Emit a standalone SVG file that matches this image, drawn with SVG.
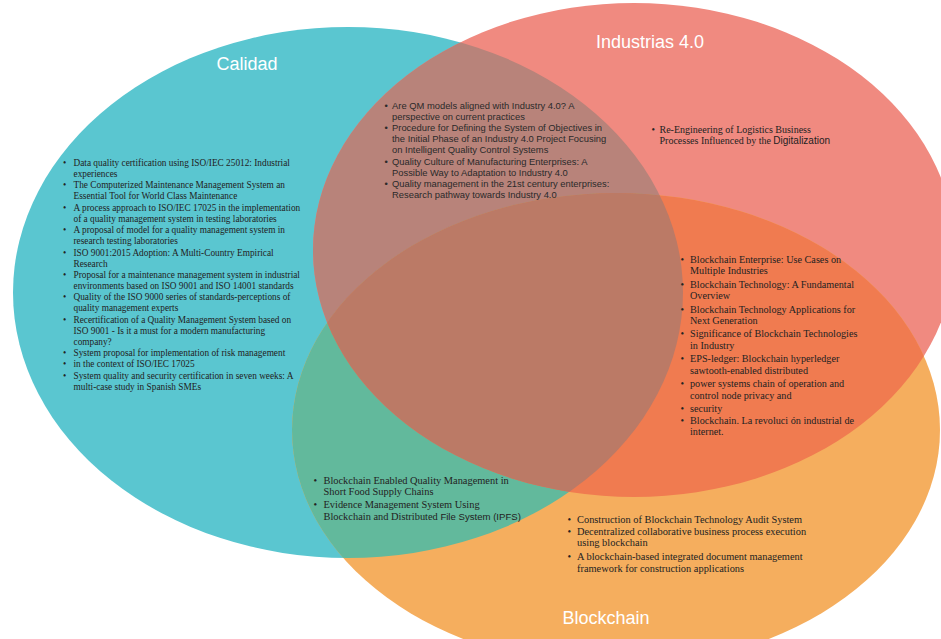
<svg xmlns="http://www.w3.org/2000/svg" xmlns:xlink="http://www.w3.org/1999/xlink" width="941" height="639" viewBox="0 0 941 639">
<style>
.t{fill:#fff;font-family:"Liberation Sans",Arial,sans-serif;font-size:18px}
.s{fill:#222;font-family:"Liberation Serif","Times New Roman",serif}
.a{fill:#2a2a2a;font-family:"Liberation Sans",Arial,sans-serif}
.sf{font-family:"Liberation Sans",Arial,sans-serif}
</style>
<defs>
<ellipse id="eB" cx="348" cy="292.5" rx="335" ry="265.5"/>
<ellipse id="eR" cx="634" cy="250" rx="321" ry="247"/>
<ellipse id="eO" cx="616" cy="430" rx="324" ry="237"/>
<clipPath id="cB"><use href="#eB"/></clipPath>
<clipPath id="cR"><use href="#eR"/></clipPath>
</defs>
<rect width="941" height="639" fill="#fff"/>
<g id="calidad"><use href="#eB" fill="#5ac6d0"/></g>
<g id="industrias"><use href="#eR" fill="#f08a80"/></g>
<g id="blockchain"><use href="#eO" fill="#f5ae5e"/></g>
<g id="overlaps">
<g clip-path="url(#cB)"><use href="#eR" fill="#b8837a"/></g>
<g clip-path="url(#cB)"><use href="#eO" fill="#62b99c"/></g>
<g clip-path="url(#cR)"><use href="#eO" fill="#f07b50"/></g>
<g clip-path="url(#cB)"><g clip-path="url(#cR)"><use href="#eO" fill="#bb7a66"/></g></g>
</g>
<g id="titles">
<text class="t" x="247" y="70" text-anchor="middle">Calidad</text>
<text class="t" x="650" y="48" text-anchor="middle" font-size="17">Industrias 4.0</text>
<text class="t" x="606" y="624" text-anchor="middle">Blockchain</text>
</g>
<g id="list-calidad" class="s" font-size="9.3">
<text x="63">
<tspan x="63" y="166">•</tspan><tspan x="73.5" y="166">Data quality certification using ISO/IEC 25012: Industrial</tspan>
<tspan x="73.5" y="177">experiences</tspan>
<tspan x="63" y="188">•</tspan><tspan x="73.5" y="188">The Computerized Maintenance Management System an</tspan>
<tspan x="73.5" y="199">Essential Tool for World Class Maintenance</tspan>
<tspan x="63" y="211">•</tspan><tspan x="73.5" y="211">A process approach to ISO/IEC 17025 in the implementation</tspan>
<tspan x="73.5" y="222">of a quality management system in testing laboratories</tspan>
<tspan x="63" y="233">•</tspan><tspan x="73.5" y="233">A proposal of model for a quality management system in</tspan>
<tspan x="73.5" y="244">research testing laboratories</tspan>
<tspan x="63" y="256">•</tspan><tspan x="73.5" y="256">ISO 9001:2015 Adoption: A Multi-Country Empirical</tspan>
<tspan x="73.5" y="267">Research</tspan>
<tspan x="63" y="278">•</tspan><tspan x="73.5" y="278">Proposal for a maintenance management system in industrial</tspan>
<tspan x="73.5" y="289">environments based on ISO 9001 and ISO 14001 standards</tspan>
<tspan x="63" y="300">•</tspan><tspan x="73.5" y="300">Quality of the ISO 9000 series of standards-perceptions of</tspan>
<tspan x="73.5" y="311">quality management experts</tspan>
<tspan x="63" y="323">•</tspan><tspan x="73.5" y="323">Recertification of a Quality Management System based on</tspan>
<tspan x="73.5" y="334">ISO 9001 - Is it a must for a modern manufacturing</tspan>
<tspan x="73.5" y="345">company?</tspan>
<tspan x="63" y="356">•</tspan><tspan x="73.5" y="356">System proposal for implementation of risk management</tspan>
<tspan x="63" y="367">•</tspan><tspan x="73.5" y="367">in the context of ISO/IEC 17025</tspan>
<tspan x="63" y="379">•</tspan><tspan x="73.5" y="379">System quality and security certification in seven weeks: A</tspan>
<tspan x="73.5" y="390">multi-case study in Spanish SMEs</tspan>
</text>
</g>
<g id="list-calidad-industrias" class="a" font-size="9.4">
<text>
<tspan x="384.5" y="108.5">•</tspan><tspan x="392" y="108.5">Are QM models aligned with Industry 4.0? A</tspan>
<tspan x="392" y="119.7">perspective on current practices</tspan>
<tspan x="384.5" y="130.9">•</tspan><tspan x="392" y="130.9">Procedure for Defining the System of Objectives in</tspan>
<tspan x="392" y="142.1">the Initial Phase of an Industry 4.0 Project Focusing</tspan>
<tspan x="392" y="153.3">on Intelligent Quality Control Systems</tspan>
<tspan x="384.5" y="164.5">•</tspan><tspan x="392" y="164.5">Quality Culture of Manufacturing Enterprises: A</tspan>
<tspan x="392" y="175.7">Possible Way to Adaptation to Industry 4.0</tspan>
<tspan x="384.5" y="186.9">•</tspan><tspan x="392" y="186.9">Quality management in the 21st century enterprises:</tspan>
<tspan x="392" y="198.1">Research pathway towards Industry 4.0</tspan>
</text>
</g>
<g id="list-industrias" class="s" font-size="10">
<text>
<tspan x="651.5" y="132.5">•</tspan><tspan x="659.5" y="132.5">Re-Engineering of Logistics Business</tspan>
<tspan x="659.5" y="143.5">Processes Influenced by the </tspan><tspan class="sf">Digitalization</tspan>
</text>
</g>
<g id="list-industrias-blockchain" class="s" font-size="10.2">
<text>
<tspan x="680.5" y="262.5">•</tspan><tspan x="690" y="262.5">Blockchain Enterprise: Use Cases on</tspan>
<tspan x="690" y="273.5">Multiple Industries</tspan>
<tspan x="680.5" y="287.5">•</tspan><tspan x="690" y="287.5">Blockchain Technology: A Fundamental</tspan>
<tspan x="690" y="299">Overview</tspan>
<tspan x="680.5" y="312.5">•</tspan><tspan x="690" y="312.5">Blockchain Technology Applications for</tspan>
<tspan x="690" y="323.5">Next Generation</tspan>
<tspan x="680.5" y="337">•</tspan><tspan x="690" y="337">Significance of Blockchain Technologies</tspan>
<tspan x="690" y="349">in Industry</tspan>
<tspan x="680.5" y="362">•</tspan><tspan x="690" y="362">EPS-ledger: Blockchain hyperledger</tspan>
<tspan x="690" y="373.5">sawtooth-enabled distributed</tspan>
<tspan x="680.5" y="387">•</tspan><tspan x="690" y="387">power systems chain of operation and</tspan>
<tspan x="690" y="398.5">control node privacy and</tspan>
<tspan x="680.5" y="412">•</tspan><tspan x="690" y="412">security</tspan>
<tspan x="680.5" y="423.5">•</tspan><tspan x="690" y="423.5">Blockchain. La revoluci ón industrial de</tspan>
<tspan x="690" y="435">internet.</tspan>
</text>
</g>
<g id="list-calidad-blockchain" class="s" font-size="10.4">
<text>
<tspan x="313.5" y="483.5">•</tspan><tspan x="323.5" y="483.5">Blockchain Enabled Quality Management in</tspan>
<tspan x="323.5" y="494.5">Short Food Supply Chains</tspan>
<tspan x="313.5" y="507.5">•</tspan><tspan x="323.5" y="507.5">Evidence Management System Using</tspan>
<tspan x="323.5" y="520">Blockchain and Distributed </tspan><tspan class="sf" font-size="9.6">File System (IPFS)</tspan>
</text>
</g>
<g id="list-blockchain" class="s" font-size="10.4">
<text>
<tspan x="567.5" y="522.5">•</tspan><tspan x="577" y="522.5">Construction of Blockchain Technology Audit System</tspan>
<tspan x="567.5" y="534.5">•</tspan><tspan x="577" y="534.5">Decentralized collaborative business process execution</tspan>
<tspan x="577" y="546">using blockchain</tspan>
<tspan x="567.5" y="560">•</tspan><tspan x="577" y="560">A blockchain-based integrated document management</tspan>
<tspan x="577" y="571.5">framework for construction applications</tspan>
</text>
</g>
</svg>
